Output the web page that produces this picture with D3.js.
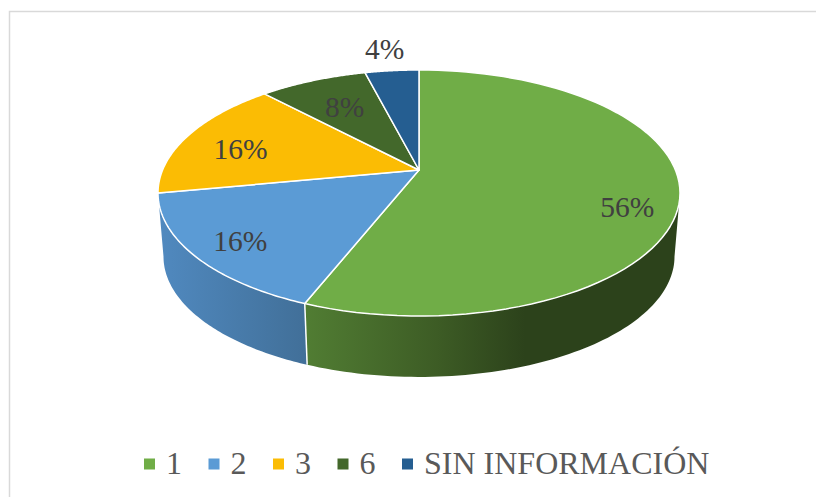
<!DOCTYPE html>
<html><head><meta charset="utf-8">
<script src="https://cdn.jsdelivr.net/npm/d3@7"></script>
<style>html,body{margin:0;padding:0;background:#fff}svg{display:block}</style>
</head><body><svg id="c" width="816" height="497"></svg>
<script>
const categories = ["1","2","3","6","SIN INFORMACIÓN"];
const values = [56,16,16,8,4];
const colors = ["#70ad47","#5b9bd5","#fbbc04","#43682b","#255e91"];
const labels = ["56%","16%","16%","8%","4%"];
const labelNudge = [[1,19],[-4,4],[8,7],[13,11],[-12,-39]];

const svg = d3.select("#c");
svg.append("rect").attr("x",9.5).attr("y",11.5).attr("width",830).attr("height",520)
  .attr("fill","#fff").attr("stroke","#d9d9d9").attr("stroke-width",1.5);

const k = 0.187;
const top_ = {cx:419, cy:170, a:256.4, b:118.7};
const bot = {cx:419, cy:234, a:251, b:116.2};
const project = (p,t,r=1)=>{
  const u=r*Math.sin(t), v=-r*Math.cos(t), w=1-k*v;
  return [p.cx+p.a*u/w, p.cy+p.b*v/w];
};
const pie = d3.pie().sort(null).value(d=>d)(values);
const sampled = (t0,t1)=>d3.range(0,81).map(i=>t0+(t1-t0)*i/80);
const line = d3.line();

const defs = svg.append("defs");
const grad = (id,x1,x2,stops)=>{
  const g=defs.append("linearGradient").attr("id",id).attr("gradientUnits","userSpaceOnUse")
    .attr("x1",x1).attr("x2",x2).attr("y1",0).attr("y2",0);
  stops.forEach(s=>g.append("stop").attr("offset",s[0]).attr("stop-color",s[1]));
};
grad("gGreen",305,525,[[0,"#517d33"],[0.6,"#3d5c25"],[1,"#2c421b"]]);
grad("gBlue",160,308,[[0,"#5089bf"],[1,"#416f98"]]);

const leftEdge = Math.PI*2 - Math.acos(-k), rightEdge = Math.acos(-k);
const sideRanges = [
  {t0:rightEdge, t1:pie[0].endAngle, fill:"url(#gGreen)"},
  {t0:pie[0].endAngle, t1:leftEdge, fill:"url(#gBlue)"}
];
svg.append("g").selectAll("path").data(sideRanges).join("path")
  .attr("d",d=>{
    const ts=sampled(d.t0,d.t1);
    return line(ts.map(t=>project(top_,t)).concat(ts.slice().reverse().map(t=>project(bot,t))))+"Z";
  })
  .attr("fill",d=>d.fill);
// separator between the two visible sides
svg.append("path")
  .attr("d",line([project(top_,pie[0].endAngle),project(bot,pie[0].endAngle)]))
  .attr("stroke","#fff").attr("stroke-width",1.5).attr("fill","none");

svg.append("g").selectAll("path").data(pie).join("path")
  .attr("d",d=>{
    const pts=[project(top_,0,0)].concat(sampled(d.startAngle,d.endAngle).map(t=>project(top_,t)));
    return line(pts)+"Z";
  })
  .attr("fill",(d,i)=>colors[i]).attr("stroke","#fff").attr("stroke-width",1.5).attr("stroke-linejoin","round");

svg.append("g").selectAll("text").data(pie).join("text")
  .attr("text-anchor","middle")
  .attr("font-family","'Liberation Serif',serif").attr("font-size",29.5).attr("fill","#404040")
  .attr("x",(d,i)=>project(top_,(d.startAngle+d.endAngle)/2,0.8)[0]+labelNudge[i][0])
  .attr("y",(d,i)=>project(top_,(d.startAngle+d.endAngle)/2,0.8)[1]+labelNudge[i][1]+10)
  .text((d,i)=>labels[i]);

let lx=144;
const lg=svg.append("g");
categories.forEach((c,i)=>{
  lg.append("rect").attr("x",lx).attr("y",458.5).attr("width",11).attr("height",11).attr("fill",colors[i]);
  const t=lg.append("text").attr("x",lx+22).attr("y",474)
    .attr("font-family","'Liberation Serif',serif").attr("font-size",32).attr("fill","#595959").text(c);
  lx += 22 + t.node().getComputedTextLength() + 26.5;
});
</script></body></html>
